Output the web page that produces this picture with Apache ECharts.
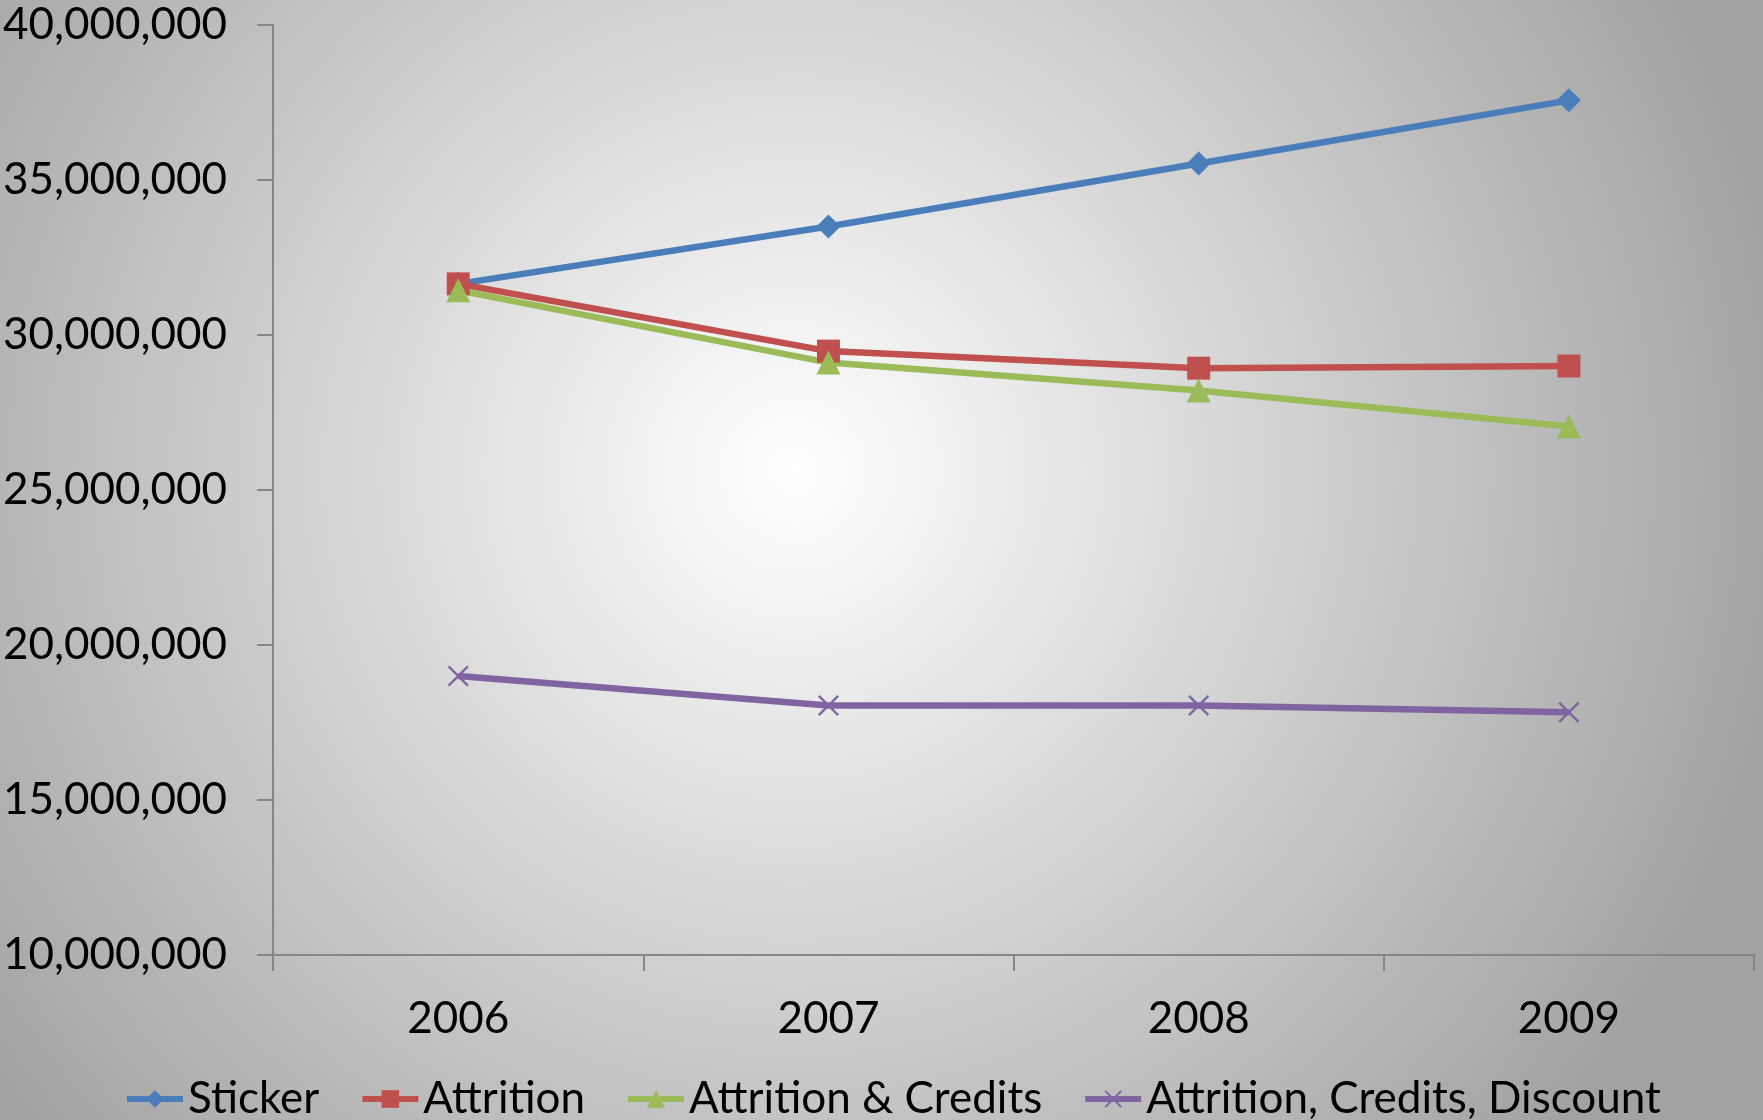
<!DOCTYPE html>
<html>
<head>
<meta charset="utf-8">
<script src="https://cdn.jsdelivr.net/npm/echarts@6/dist/echarts.min.js"></script>
<style>
html,body{margin:0;padding:0;}
#c{width:1763px;height:1120px;}
</style>
</head>
<body>
<div id="c"></div>
<script>
var categories = ['2006', '2007', '2008', '2009'];
var sticker = [31650000, 33500000, 35530000, 37570000];
var attrition = [31650000, 29480000, 28930000, 29000000];
var attritionCredits = [31440000, 29110000, 28210000, 27050000];
var attritionCreditsDiscount = [19000000, 18050000, 18050000, 17830000];
var seriesNames = ['Sticker', 'Attrition', 'Attrition & Credits', 'Attrition, Credits, Discount'];
var yMin = 10000000, yMax = 40000000, yStep = 5000000;

var FONT = 'Lato';
var xPath = 'path://M0,0.8L0.8,0L5,4.2L9.2,0L10,0.8L5.8,5L10,9.2L9.2,10L5,5.8L0.8,10L0,9.2L4.2,5Z';

var chart = echarts.init(document.getElementById('c'));
function fmt(v){ return v.toLocaleString('en-US'); }
function mk(name, data, color, symbol, size){
  return {
    name: name, type: 'line', data: data,
    symbol: symbol, symbolSize: size,
    lineStyle: {color: color, width: 6.5},
    itemStyle: {color: color},
    emphasis: {disabled: true},
    animation: false
  };
}
chart.setOption({
  backgroundColor: {
    type: 'radial', x: 0.45, y: 0.42, r: 0.9,
    colorStops: [{offset: 0, color: '#ffffff'}, {offset: 1, color: '#a2a2a2'}]
  },
  textStyle: {fontFamily: FONT},
  grid: {left: 273, right: 9, top: 25, bottom: 165, containLabel: false},
  legend: {
    bottom: -6, left: 119,
    itemWidth: 56, itemHeight: 22, itemGap: 40,
    lineStyle: {width: 6},
    textStyle: {fontFamily: FONT, fontSize: 44, color: '#000'},
    data: seriesNames
  },
  xAxis: {
    type: 'category', data: categories, boundaryGap: true,
    axisLine: {lineStyle: {color: '#868686', width: 2}},
    axisTick: {show: true, length: 16, lineStyle: {color: '#868686', width: 2}},
    axisLabel: {fontFamily: FONT, fontSize: 44, color: '#000', margin: 42}
  },
  yAxis: {
    type: 'value', min: yMin, max: yMax, interval: yStep,
    splitLine: {show: false},
    axisLine: {show: true, lineStyle: {color: '#868686', width: 2}},
    axisTick: {show: true, length: 16, lineStyle: {color: '#868686', width: 2}},
    axisLabel: {fontFamily: FONT, fontSize: 44, color: '#000', margin: 46, formatter: fmt}
  },
  series: [
    mk(seriesNames[0], sticker, '#4A7EBB', 'diamond', 24),
    mk(seriesNames[1], attrition, '#C0504D', 'rect', 23),
    mk(seriesNames[2], attritionCredits, '#9BBB59', 'triangle', 24),
    mk(seriesNames[3], attritionCreditsDiscount, '#8064A2', xPath, 21)
  ]
});
</script>
</body>
</html>
